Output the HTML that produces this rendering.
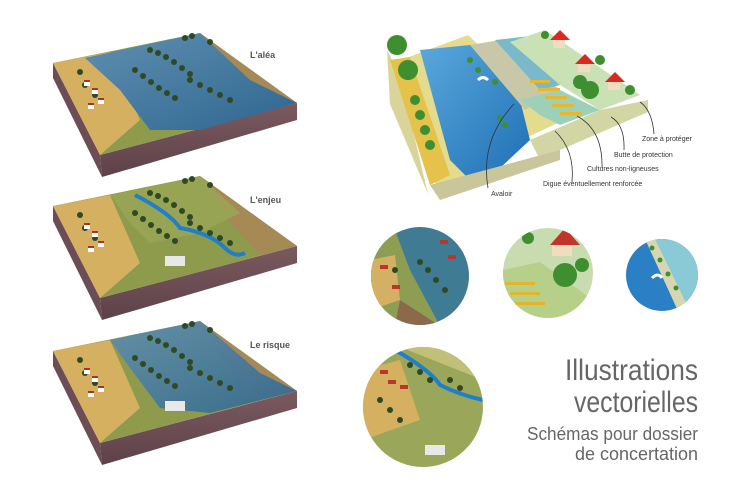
<!DOCTYPE html>
<html><head><meta charset="utf-8"><style>
html,body{margin:0;padding:0;background:#fff;}
svg{display:block;}
text{font-family:"Liberation Sans",sans-serif;}
</style></head><body>
<svg width="737" height="496" viewBox="0 0 737 496" xmlns="http://www.w3.org/2000/svg">
<defs>
<linearGradient id="side" x1="0" y1="0" x2="0" y2="1"><stop offset="0" stop-color="#7a5a60"/><stop offset="1" stop-color="#5e4148"/></linearGradient>
<linearGradient id="water" x1="0" y1="0" x2="1" y2="1"><stop offset="0" stop-color="#5f8fb0"/><stop offset="1" stop-color="#2f6690"/></linearGradient>
<linearGradient id="bw" x1="0" y1="0" x2="1" y2="1"><stop offset="0" stop-color="#5aa8dc"/><stop offset="1" stop-color="#1f6fb5"/></linearGradient>
<clipPath id="c1"><circle cx="420" cy="276" r="49"/></clipPath>
<clipPath id="c2"><circle cx="548" cy="273" r="45"/></clipPath>
<clipPath id="c3"><circle cx="662" cy="275" r="36"/></clipPath>
<clipPath id="c4"><circle cx="423" cy="407" r="60"/></clipPath>
<g id="blockbase">
<polygon points="53,63 100,155 102,177 53,78" fill="#6d4d55"/>
<polygon points="100,155 297,103 297,120 102,177" fill="url(#side)"/>
<polygon points="53,63 200,33 297,103 100,155" fill="#8e9a4c"/>
<polygon points="53,63 110,52 140,120 100,155" fill="#d4b060"/>
<polygon points="200,33 297,103 260,112 230,80" fill="#a58a55"/>
</g>
<g id="trees" fill="#2f4a22">
<circle cx="150" cy="50" r="3"/><circle cx="158" cy="53" r="3"/><circle cx="166" cy="57" r="3"/><circle cx="174" cy="62" r="3"/><circle cx="182" cy="68" r="3"/><circle cx="190" cy="74" r="3"/>
<circle cx="135" cy="70" r="3"/><circle cx="143" cy="76" r="3"/><circle cx="151" cy="82" r="3"/><circle cx="159" cy="88" r="3"/><circle cx="167" cy="93" r="3"/><circle cx="175" cy="98" r="3"/>
<circle cx="190" cy="80" r="3"/><circle cx="200" cy="85" r="3"/><circle cx="210" cy="90" r="3"/><circle cx="220" cy="95" r="3"/><circle cx="230" cy="100" r="3"/>
<circle cx="185" cy="38" r="3"/><circle cx="192" cy="36" r="3"/><circle cx="210" cy="42" r="3"/><circle cx="80" cy="72" r="3"/><circle cx="85" cy="85" r="3"/><circle cx="95" cy="95" r="3"/>
</g>
<g id="houses" fill="#fff">
<rect x="84" y="82" width="6" height="4"/><rect x="92" y="90" width="6" height="4"/><rect x="98" y="100" width="6" height="4"/><rect x="88" y="105" width="6" height="4"/>
<rect x="84" y="80" width="6" height="2" fill="#a8352c"/><rect x="92" y="88" width="6" height="2" fill="#a8352c"/><rect x="98" y="98" width="6" height="2" fill="#a8352c"/><rect x="88" y="103" width="6" height="2" fill="#a8352c"/>
</g>
</defs>

<use href="#blockbase"/>
<polygon points="85,58 200,33 250,80 297,103 200,130 150,130 120,90" fill="url(#water)"/>
<use href="#trees"/><use href="#houses"/>
<text x="250" y="58" font-size="9" font-weight="bold" fill="#555">L'aléa</text>

<g transform="translate(0,143)">
<use href="#blockbase"/>
<polygon points="110,52 200,33 240,70 200,90 150,100 130,80" fill="#9aa656" opacity="0.8"/>
<path d="M135,52 Q170,70 180,85 Q210,90 225,105 Q235,115 245,110" stroke="#1f7fc8" stroke-width="4" fill="none"/>
<rect x="165" y="113" width="20" height="10" fill="#e8e8e8"/>
<use href="#trees"/><use href="#houses"/>
</g>
<text x="250" y="203" font-size="9" font-weight="bold" fill="#555">L'enjeu</text>

<g transform="translate(0,288)">
<use href="#blockbase"/>
<polygon points="110,52 200,33 260,85 297,103 210,125 160,120 130,80" fill="url(#water)" opacity="0.9"/>
<rect x="165" y="113" width="20" height="10" fill="#e8e8e8"/>
<use href="#trees"/><use href="#houses"/>
</g>
<text x="250" y="348" font-size="9" font-weight="bold" fill="#555">Le risque</text>

<polygon points="387,50 400,76 428,194 390,104" fill="#d9d49a"/>
<polygon points="390,64 468,35 560,122 500,150 462,190 440,195" fill="#e3dc8e"/>
<polygon points="390,60 410,57 450,175 430,185" fill="#e5c24a"/>
<polygon points="420,50 470,45 520,100 530,140 500,168 470,180 450,160" fill="url(#bw)"/>
<polygon points="470,45 500,40 560,90 525,110" fill="#c8c8a8"/>
<polygon points="495,40 540,35 580,80 540,90" fill="#7ab9c9"/>
<polygon points="520,100 560,90 600,110 560,125 540,115" fill="#9cd0b8"/>
<polygon points="510,42 545,30 640,95 600,110 560,85" fill="#c9e1b4"/>
<polygon points="530,140 600,110 648,100 648,112 560,150 540,160" fill="#d2d6a4"/>
<polygon points="430,185 440,200 560,160 560,150" fill="#c8c69a"/>
<g fill="#e8b72c">
<rect x="530" y="80" width="20" height="3"/><rect x="538" y="88" width="22" height="3"/><rect x="545" y="96" width="22" height="3"/><rect x="552" y="104" width="22" height="3"/><rect x="560" y="112" width="22" height="3"/>
</g>
<g fill="#3e8f2f">
<circle cx="397" cy="45" r="10"/><circle cx="408" cy="70" r="10"/><circle cx="415" cy="100" r="5"/><circle cx="420" cy="115" r="5"/><circle cx="425" cy="130" r="5"/><circle cx="430" cy="145" r="5"/>
<circle cx="590" cy="90" r="9"/><circle cx="580" cy="82" r="7"/><circle cx="600" cy="60" r="5"/><circle cx="630" cy="90" r="5"/><circle cx="545" cy="35" r="4"/>
<circle cx="470" cy="60" r="3"/><circle cx="478" cy="70" r="3"/><circle cx="495" cy="82" r="3"/><circle cx="500" cy="118" r="3"/><circle cx="505" cy="125" r="3"/>
</g>
<g>
<rect x="553" y="38" width="12" height="10" fill="#f2dcc0"/><polygon points="550,40 560,30 570,40" fill="#d82a20"/>
<rect x="578" y="62" width="12" height="10" fill="#f2dcc0"/><polygon points="575,64 585,54 595,64" fill="#d82a20"/>
<rect x="608" y="80" width="12" height="10" fill="#f2dcc0"/><polygon points="605,82 615,72 625,82" fill="#d82a20"/>
</g>
<path d="M478,80 q5,-5 10,0" stroke="#fff" stroke-width="3" fill="none"/>
<g stroke="#333" stroke-width="0.8" fill="none">
<path d="M514,104 Q480,140 488,188"/>
<path d="M555,131 Q575,150 572,182"/>
<path d="M577,116 Q603,130 602,168"/>
<path d="M611,117 Q625,125 624,150"/>
<path d="M640,102 Q652,110 654,134"/>
</g>
<g font-size="7" fill="#333">
<text x="491" y="196">Avaloir</text>
<text x="543" y="186">Digue éventuellement renforcée</text>
<text x="587" y="171">Cultures non-ligneuses</text>
<text x="614" y="157">Butte de protection</text>
<text x="642" y="141">Zone à protéger</text>
</g>

<g clip-path="url(#c1)">
<rect x="370" y="226" width="100" height="100" fill="#3f7b92"/>
<polygon points="370,240 395,230 410,270 440,326 370,326" fill="#8d9d52"/>
<polygon points="370,260 395,255 400,300 370,310" fill="#d3b064"/>
<polygon points="400,300 440,326 395,326" fill="#8a6a4a"/>
<g fill="#2f4a22"><circle cx="420" cy="262" r="3"/><circle cx="428" cy="270" r="3"/><circle cx="436" cy="280" r="3"/><circle cx="445" cy="290" r="3"/><circle cx="395" cy="270" r="3"/></g>
<g fill="#b8372a"><rect x="440" y="240" width="8" height="4"/><rect x="448" y="255" width="8" height="4"/><rect x="380" y="265" width="8" height="4"/><rect x="392" y="285" width="8" height="4"/></g>
</g>
<g clip-path="url(#c2)">
<rect x="503" y="228" width="90" height="90" fill="#c9dcb0"/>
<polygon points="503,270 540,262 593,300 593,318 503,318" fill="#b6d08a"/>
<g fill="#e4b52c"><rect x="505" y="282" width="30" height="3"/><rect x="510" y="292" width="30" height="3"/><rect x="515" y="302" width="30" height="3"/></g>
<g fill="#3e8f2f"><circle cx="565" cy="275" r="12"/><circle cx="582" cy="265" r="7"/><circle cx="528" cy="238" r="6"/></g>
<rect x="552" y="242" width="20" height="14" fill="#f2dcc0"/><polygon points="550,245 565,228 580,245" fill="#c0352a"/>
</g>
<g clip-path="url(#c3)">
<rect x="626" y="239" width="72" height="72" fill="#2b7fc4"/>
<polygon points="650,239 698,239 698,300 680,305" fill="#8ac9d6"/>
<polygon points="645,239 655,239 690,311 678,311" fill="#d6d6b0"/>
<g fill="#3e8f2f"><circle cx="652" cy="248" r="2.5"/><circle cx="660" cy="260" r="2.5"/><circle cx="668" cy="274" r="2.5"/><circle cx="676" cy="288" r="2.5"/></g>
<path d="M652,278 q6,-6 10,0" stroke="#fff" stroke-width="3" fill="none"/>
</g>
<g clip-path="url(#c4)">
<rect x="363" y="347" width="120" height="120" fill="#9aa65a"/>
<polygon points="363,370 400,360 420,420 363,440" fill="#d4b060"/>
<polygon points="400,347 483,347 483,380" fill="#c0c078"/>
<path d="M395,350 Q430,370 440,385 Q460,395 483,400" stroke="#1f7fc8" stroke-width="4" fill="none"/>
<g fill="#2f4a22"><circle cx="410" cy="365" r="3"/><circle cx="420" cy="372" r="3"/><circle cx="430" cy="380" r="3"/><circle cx="450" cy="380" r="3"/><circle cx="460" cy="388" r="3"/><circle cx="380" cy="400" r="3"/><circle cx="390" cy="410" r="3"/><circle cx="400" cy="420" r="3"/></g>
<g fill="#b8372a"><rect x="380" y="370" width="8" height="4"/><rect x="388" y="380" width="8" height="4"/><rect x="400" y="385" width="8" height="4"/></g>
<rect x="425" y="445" width="20" height="10" fill="#e8e8e8"/>
</g>

<g fill="#666" text-anchor="end">
<text x="698" y="380" font-size="30" textLength="133" lengthAdjust="spacingAndGlyphs">Illustrations</text>
<text x="698" y="412" font-size="30" textLength="124" lengthAdjust="spacingAndGlyphs">vectorielles</text>
<text x="698" y="440" font-size="18" textLength="171" lengthAdjust="spacingAndGlyphs">Schémas pour dossier</text>
<text x="698" y="460" font-size="18" textLength="123" lengthAdjust="spacingAndGlyphs">de concertation</text>
</g>
</svg>
</body></html>
